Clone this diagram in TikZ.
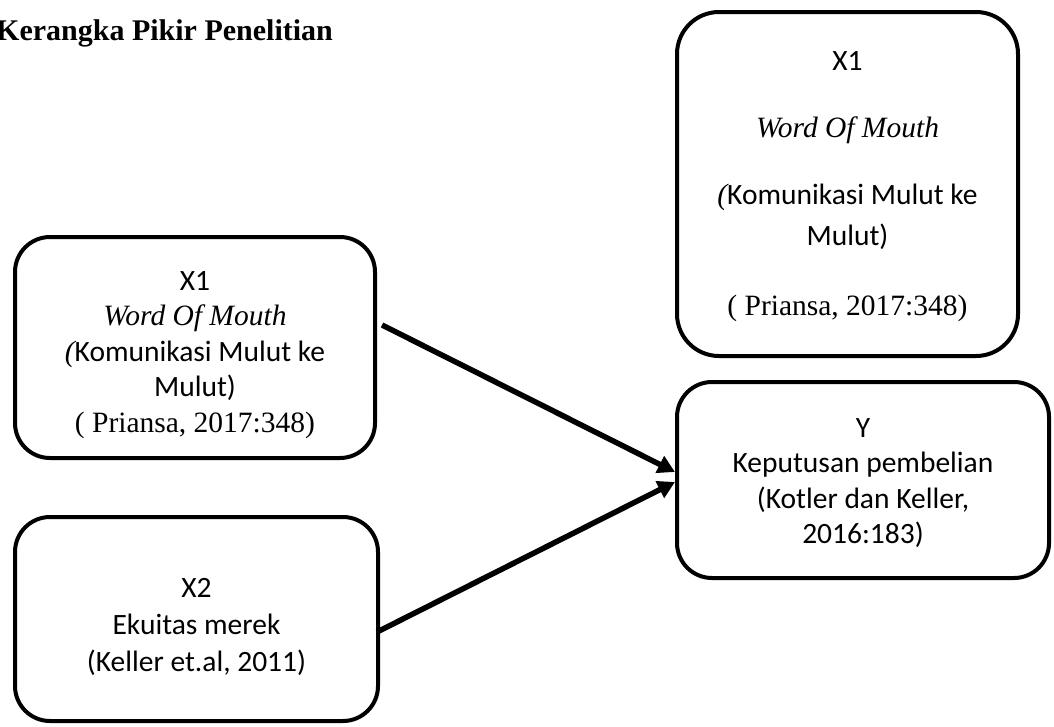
\documentclass[tikz,border=0pt]{standalone}
\usepackage{fontspec}
\setmainfont{Liberation Serif}
\newfontfamily\calfont{Carlito}
\usetikzlibrary{arrows.meta}
\newcommand{\topstrut}[1]{\rule{0pt}{#1}}
\newcommand{\botstrut}[1]{\rule[-#1]{0pt}{#1}}
\begin{document}
\begin{tikzpicture}[x=1pt,y=-1pt,
  boxstyle/.style={draw, line width=4pt, rounded corners=35pt, align=center,
    inner sep=0pt, font=\calfont\fontsize{29.5}{35.5}\selectfont},
  link/.style={line width=5.5pt, -{Triangle[length=17pt,width=18pt]}}]
\useasboundingbox (0,0) rectangle (1054,726);

\node[anchor=base west, inner sep=0pt, font=\bfseries\fontsize{30}{36}\selectfont]
  (title) at (-4,40) {Kerangka Pikir Penelitian};

\node[boxstyle, rounded corners=42pt, minimum width=341pt, minimum height=344pt]
  (tr) at (847.5,184)
  {\topstrut{25pt}X1\\[31.5pt]
   {\rmfamily\itshape Word Of Mouth}\\[31.5pt]
   {\rmfamily\itshape (}Komunikasi Mulut ke\\[5.5pt]
   Mulut)\\[34.5pt]
   {\rmfamily ( Priansa, 2017:348)}\botstrut{8pt}};

\node[boxstyle, minimum width=360pt, minimum height=221pt]
  (x1) at (195,347.5)
  {\topstrut{35pt}X1\\
   {\rmfamily\itshape Word Of Mouth}\\
   {\rmfamily\itshape (}Komunikasi Mulut ke\\
   Mulut)\\
   {\rmfamily ( Priansa, 2017:348)}\botstrut{8pt}};

\node[boxstyle, minimum width=372pt, minimum height=196pt]
  (y) at (863,480)
  {\topstrut{28.5pt}Y\\
   Keputusan pembelian\\
   (Kotler dan Keller,\\
   2016:183)\botstrut{8pt}};

\node[boxstyle, minimum width=363pt, minimum height=204pt]
  (x2) at (196.5,619)
  {\topstrut{38pt}X2\\[1.5pt]
   Ekuitas merek\\[1.5pt]
   (Keller et.al, 2011)\botstrut{8pt}};

\coordinate (s1) at (382,325);
\coordinate (s2) at (377,632);
\coordinate (e1) at ([yshift=8pt]y.west);
\coordinate (e2) at ([yshift=-2pt]y.west);

\draw[link] (s1) -- (e1);
\draw[link] (s2) -- (e2);
\end{tikzpicture}
\end{document}
